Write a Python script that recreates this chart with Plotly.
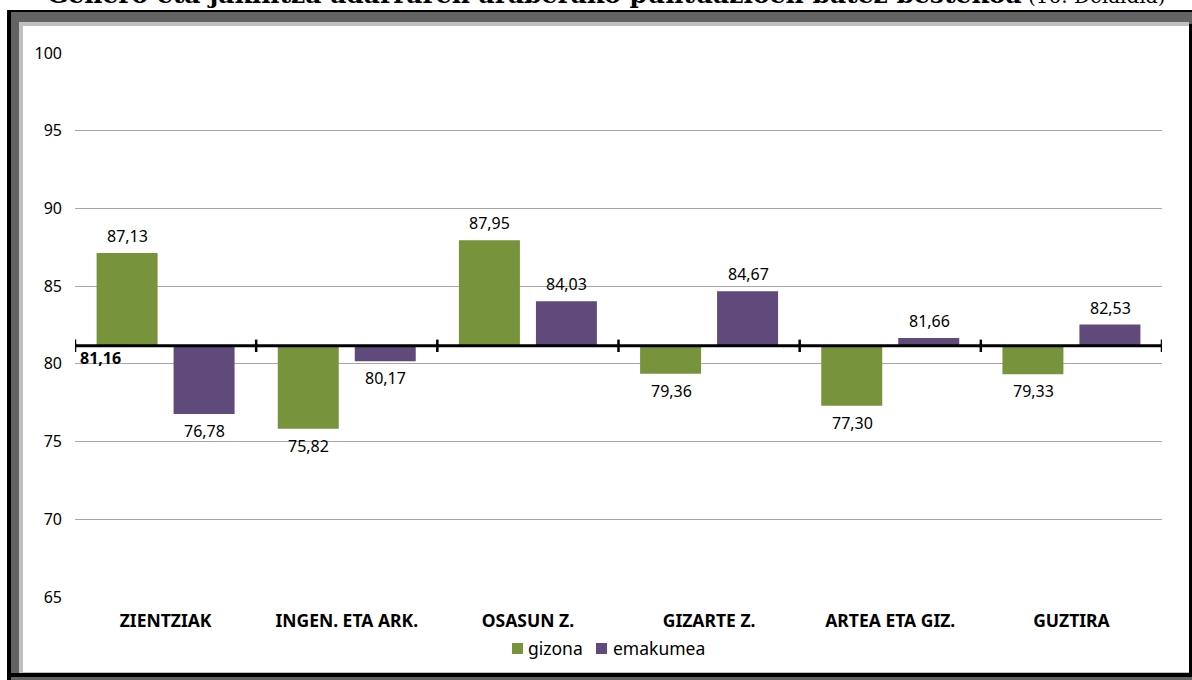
import plotly.graph_objects as go

# data
categories = ['ZIENTZIAK', 'INGEN. ETA ARK.', 'OSASUN Z.', 'GIZARTE Z.', 'ARTEA ETA GIZ.', 'GUZTIRA']
gizona = [87.13, 75.82, 87.95, 79.36, 77.30, 79.33]
emakumea = [76.78, 80.17, 84.03, 84.67, 81.66, 82.53]
base_value = 81.16
y_ticks = [65, 70, 75, 80, 85, 90, 95, 100]
series_names = ['gizona', 'emakumea']

GREEN = '#77933C'
PURPLE = '#604A7B'
FONT = 'Noto Sans'

W, H = 1192, 680
ML, MR, MT, MB = 75, 30, 53, 83
PW, PH = W - ML - MR, H - MT - MB


def px_x(px):
    return (px - ML) / PW


def px_y(py):
    return (H - MB - py) / PH


def fmt(v):
    return f'{v:.2f}'.replace('.', ',')


fig = go.Figure()
for name, vals, color in [(series_names[0], gizona, GREEN), (series_names[1], emakumea, PURPLE)]:
    fig.add_trace(go.Bar(
        x=categories,
        y=[v - base_value for v in vals],
        base=base_value,
        name=name,
        marker=dict(color=color, line=dict(width=0)),
        hoverinfo='skip',
        showlegend=False
    ))

annotations = []
for vals, shift in [(gizona, -38), (emakumea, 39)]:
    for cat, v in zip(categories, vals):
        annotations.append(dict(
            x=cat, y=v, xref='x', yref='y', text=fmt(v), showarrow=False,
            xshift=shift, yshift=17 if v > base_value else -17,
            font=dict(family=FONT, size=16, color='#000000')
        ))

# base value label
annotations.append(dict(
    x=-0.5, y=base_value, xref='x', yref='y', text='<b>' + fmt(base_value) + '</b>',
    showarrow=False, xanchor='left', yanchor='middle', xshift=3, yshift=-12,
    font=dict(family=FONT, size=16, color='#000000')
))

# title (cut off at top of the picture)
annotations.append(dict(
    x=px_x(606), y=px_y(-5), xref='paper', yref='paper', showarrow=False,
    xanchor='center', yanchor='middle',
    text='<b>Genero eta jakintza adarraren araberako puntuazioen batez bestekoa</b>'
         '<span style="font-size:20px;font-weight:normal"> (16. Deialdia)</span>',
    font=dict(family='DejaVu Serif', size=25, color='#000000')
))

shapes = []


def rect(x0, y0, x1, y1, color, layer='below'):
    shapes.append(dict(type='rect', xref='paper', yref='paper',
                       x0=px_x(x0), x1=px_x(x1), y0=px_y(y0), y1=px_y(y1),
                       fillcolor=color, line=dict(width=0), layer=layer))


# bevelled frame
rect(7, 10, 1192, 680, '#636363')
rect(7, 10, 11, 680, '#000000')
rect(7, 10, 1192, 12, '#000000')
rect(1189, 24, 1192, 677, '#000000')
rect(11, 673, 1192, 677, '#000000')
rect(19, 22, 1189, 673, '#C0C0C0')
rect(23, 26, 1189, 672, '#FFFFFF')

# legend drawn by hand: small squares right next to the labels
legend_items = [(512, 526, GREEN, series_names[0]), (596, 611, PURPLE, series_names[1])]
for sq_x, txt_x, color, name in legend_items:
    rect(sq_x, 643, sq_x + 11, 654, color, layer='above')
    annotations.append(dict(
        x=px_x(txt_x), y=px_y(648), xref='paper', yref='paper', showarrow=False,
        xanchor='left', yanchor='middle', text=name,
        font=dict(family=FONT, size=17.5, color='#000000')
    ))

# base axis line with tick marks at the category boundaries
shapes.append(dict(type='line', xref='x', yref='y', x0=-0.5, x1=5.5,
                   y0=base_value, y1=base_value,
                   line=dict(color='#000000', width=3), layer='above'))
for i in range(len(categories) + 1):
    shapes.append(dict(type='line', xref='x', yref='y', x0=i - 0.5, x1=i - 0.5,
                       y0=base_value - 0.4, y1=base_value + 0.4,
                       line=dict(color='#000000', width=2.5), layer='above'))

fig.update_layout(
    width=W, height=H,
    margin=dict(l=ML, r=MR, t=MT, b=MB),
    paper_bgcolor='#FFFFFF',
    plot_bgcolor='#FFFFFF',
    barmode='group',
    bargap=0.15,
    bargroupgap=0.208,
    font=dict(family=FONT, size=16, color='#000000'),
    showlegend=False,
    annotations=annotations,
    shapes=shapes,
    xaxis=dict(
        range=[-0.5, 5.5],
        showgrid=False, showline=False, zeroline=False, ticks='',
        tickfont=dict(family=FONT, size=17.5, color='#000000', weight='bold'),
        ticklabelstandoff=11
    ),
    yaxis=dict(
        range=[65, 100],
        tickvals=y_ticks,
        showgrid=True, gridcolor='#A6A6A6', gridwidth=1,
        showline=False, zeroline=False, ticks='',
        tickfont=dict(family=FONT, size=16, color='#000000'),
        ticklabelstandoff=12
    )
)

fig.write_html('out.html', config={'displayModeBar': False},
               post_script="document.body.style.margin='0';document.body.style.overflow='hidden';")
